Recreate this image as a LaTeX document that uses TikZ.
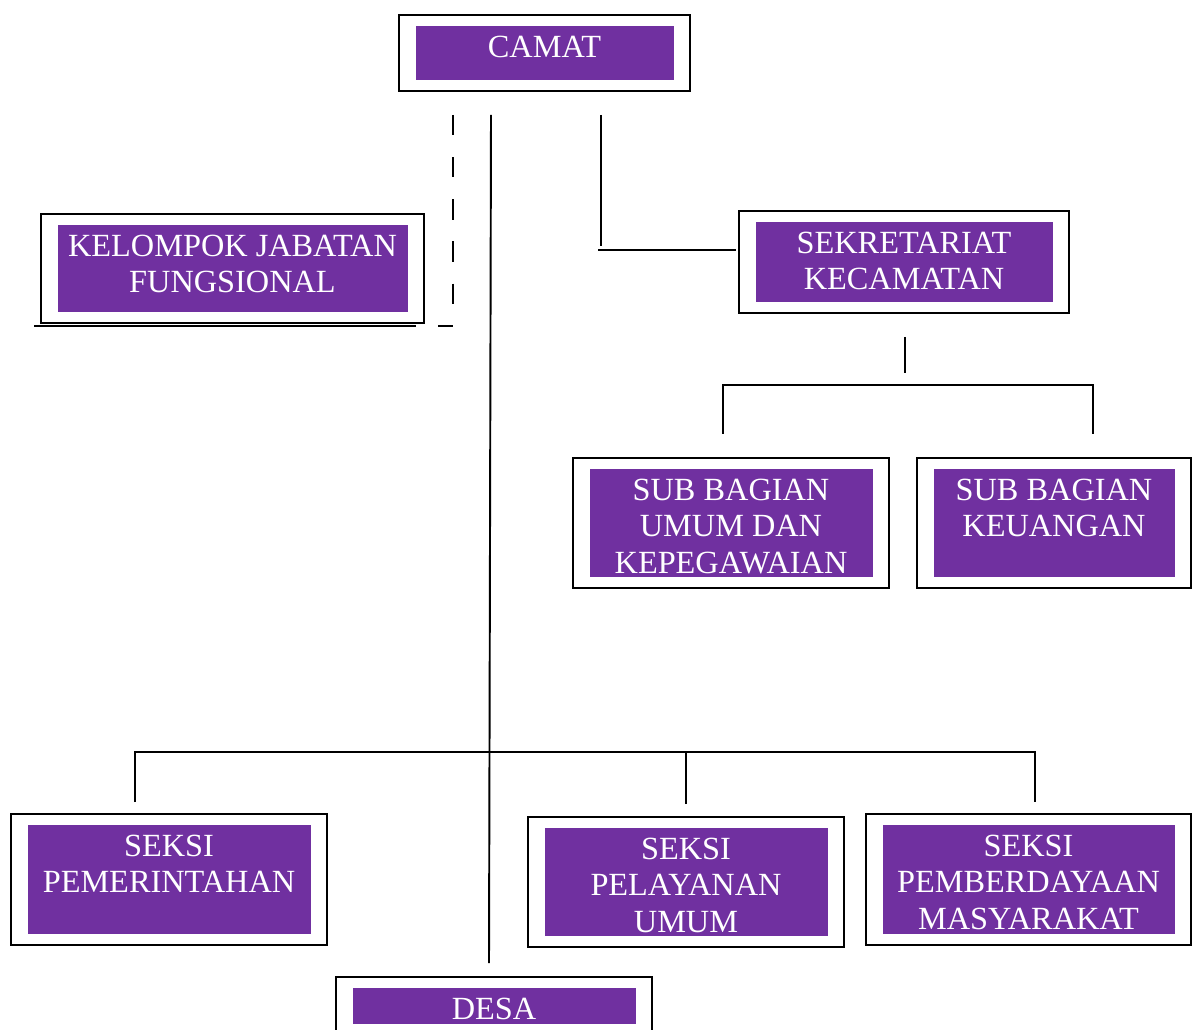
\documentclass[tikz,border=0pt]{standalone}
\usepackage{fontspec}
\setmainfont{Liberation Serif}
\usetikzlibrary{fit}
\definecolor{ungu}{HTML}{7030A0}
\tikzset{
    bingkai/.style={draw, line width=1.3pt, inner sep=0pt},
    isi/.style={fill=ungu, inner sep=0pt},
    teks/.style={text=white, align=center, anchor=north, inner sep=0pt,
        font=\fontsize{18.4}{20.8}\selectfont},
    garis/.style={line width=1.1pt},
    putus/.style={line width=1.1pt, dash pattern=on 11.5pt off 12.5pt}
}

\begin{document}
\begin{tikzpicture}[x=0.02cm, y=-0.02cm]
    \useasboundingbox (0,0) rectangle (1194,1030);
    % kotak-kotak jabatan
    \foreach \nama/\xa/\ya/\xb/\yb/\isi in {
        camat/399/15/690/91/CAMAT,
        kjf/41/214/424/323/KELOMPOK JABATAN\\FUNGSIONAL,
        sekcam/739/211/1069/313/SEKRETARIAT\\KECAMATAN,
        umum/573/458/889/588/SUB BAGIAN\\UMUM DAN\\KEPEGAWAIAN,
        keu/917/458/1191/588/SUB BAGIAN\\KEUANGAN,
        pem/11/814/327/945/SEKSI\\PEMERINTAHAN,
        pel/528/817/844/947/SEKSI\\PELAYANAN\\UMUM,
        pmm/866/814/1191/945/SEKSI\\PEMBERDAYAAN\\MASYARAKAT,
        desa/336/977/652/1035/DESA} {
        \node[bingkai, fit={(\xa,\ya) (\xb,\yb)}] (\nama) {};
        \node[isi, fit={(\xa+17,\ya+11) (\xb-16,\yb-11)}] (\nama-isi) {};
        \node[teks] (\nama-teks) at ({(\xa+\xb)/2},\ya+20.5) {\isi};
    }
    % ujung garis
    \coordinate (ca1) at (491,115);
    \coordinate (ca2) at (489,963);
    \coordinate (sk1) at (601,115);
    \coordinate (sk2) at (601,246);
    \coordinate (sk3) at (598,250);
    \coordinate (sk4) at (736,250);
    \coordinate (fg1) at (453,115);
    \coordinate (fg2) at (453,306);
    \coordinate (fg3) at (438,326);
    \coordinate (fg4) at (453,326);
    \coordinate (fg5) at (34,326);
    \coordinate (fg6) at (416,326);
    \coordinate (sb0) at (905,337);
    \coordinate (sb1) at (905,373);
    \coordinate (sb2) at (723,434);
    \coordinate (sb3) at (1093,434);
    \coordinate (se1) at (135,802);
    \coordinate (se2) at (686,804);
    \coordinate (se3) at (1035,802);
    % garis penghubung
    \draw[garis] (ca1) -- (ca2);
    \draw[garis] (sk1) -- (sk2);
    \draw[garis] (sk3) -- (sk4);
    \draw[putus] (fg1) -- (fg2);
    \draw[garis] (fg3) -- (fg4);
    \draw[garis] (fg5) -- (fg6);
    \draw[garis] (sb0) -- (sb1);
    \draw[garis] (sb2) |- (905,385) -| (sb3);
    \draw[garis] (se1) |- (686,752) -| (se3);
    \draw[garis] (se2) -- (686,752);
\end{tikzpicture}
\end{document}
